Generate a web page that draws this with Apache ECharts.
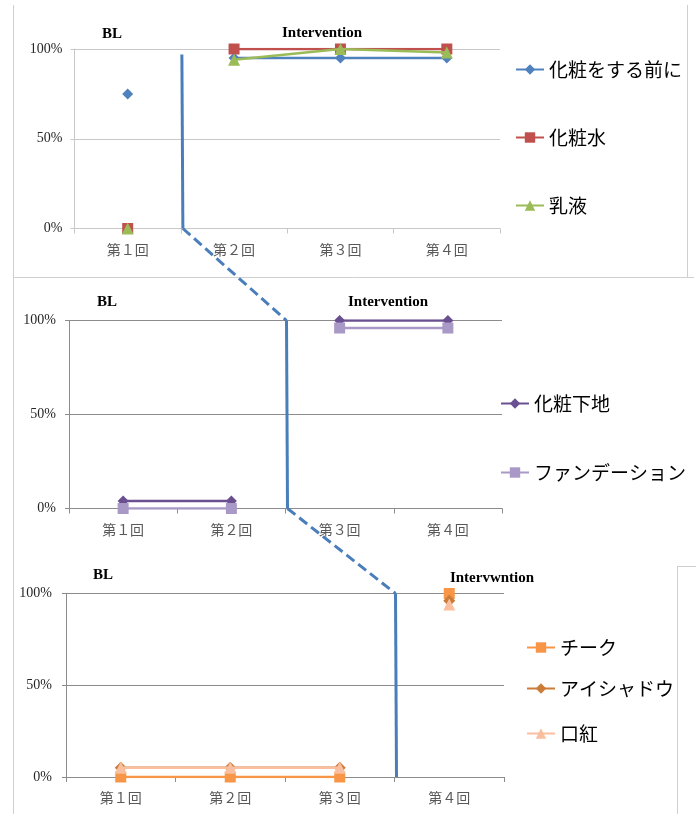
<!DOCTYPE html>
<html>
<head>
<meta charset="utf-8">
<script src="https://cdn.jsdelivr.net/npm/echarts@6/dist/echarts.min.js"></script>
<style>
html,body{margin:0;padding:0;background:#fff;}
#chart{width:696px;height:814px;}
</style>
</head>
<body>
<div id="chart"></div>
<script>
// ---- data ----
var categories = ['第１回', '第２回', '第３回', '第４回'];
var yTicks = [0, 50, 100];

// panel 1 (phase change after session 1)
var p1Names = ['化粧をする前に', '化粧水', '乳液'];
var p1Before = [75, 95, 95, 95];
var p1Lotion = [0, 100, 100, 100];
var p1Milk = [0, 94, 100, 98];
var p1Phase = 1;

// panel 2 (phase change after session 2)
var p2Names = ['化粧下地', 'ファンデーション'];
var p2Base = [4, 4, 100, 100];
var p2Foundation = [0, 0, 96, 96];
var p2Phase = 2;

// panel 3 (phase change after session 3)
var p3Names = ['チーク', 'アイシャドウ', '口紅'];
var p3Cheek = [0, 0, 0, 100];
var p3Eyeshadow = [5, 5, 5, 96];
var p3Lipstick = [5, 5, 5, 94];
var p3Phase = 3;

var phaseLabels = [['BL', 'Intervention'], ['BL', 'Intervention'], ['BL', 'Intervwntion']];

// ---- styling ----
var panels = [
  {
    names: p1Names, data: [p1Before, p1Lotion, p1Milk], phase: p1Phase,
    colors: ['#4F81BD', '#C0504D', '#9BBB59'],
    symbols: ['diamond', 'rect', 'triangle'],
    sizes: [11, 11, 12],
    grid: {left: 74.5, top: 49, width: 425.5, height: 179.5},
    gridColor: '#c8c8c8', labelMargin: 14, yMargin: 12,
    legendLeft: 510, legendTops: [55, 123, 191],
    labelPos: [[112, 34], [322, 33]]
  },
  {
    names: p2Names, data: [p2Base, p2Foundation], phase: p2Phase,
    colors: ['#6A4F91', '#A899C6'],
    symbols: ['diamond', 'rect'],
    sizes: [11, 11],
    grid: {left: 69, top: 320.5, width: 433, height: 188},
    gridColor: '#8c8c8c', labelMargin: 14, yMargin: 13,
    legendLeft: 495, legendTops: [389, 458],
    labelPos: [[107, 302], [388, 302]]
  },
  {
    names: p3Names, data: [p3Cheek, p3Eyeshadow, p3Lipstick], phase: p3Phase,
    colors: ['#F79646', '#CB7C38', '#F9BF9E'],
    symbols: ['rect', 'diamond', 'triangle'],
    sizes: [11, 12, 12],
    grid: {left: 66, top: 593.5, width: 438, height: 183.5},
    gridColor: '#8c8c8c', labelMargin: 14, yMargin: 14,
    legendLeft: 521, legendTops: [633, 674, 719],
    labelPos: [[103, 575], [492, 578]]
  }
];

var option = {
  animation: false,
  backgroundColor: '#fff',
  grid: [], xAxis: [], yAxis: [], series: [], legend: [], graphic: []
};

panels.forEach(function (p, pi) {
  option.grid.push(Object.assign({containLabel: false}, p.grid));
  option.xAxis.push({
    type: 'category', gridIndex: pi, data: categories, boundaryGap: true,
    axisLine: {show: true, lineStyle: {color: p.gridColor, width: 1}},
    axisTick: {show: true, length: 5, lineStyle: {color: p.gridColor}},
    axisLabel: {color: '#595959', fontFamily: 'Noto Sans CJK JP', fontSize: 14, margin: p.labelMargin},
    splitLine: {show: false}
  });
  option.yAxis.push({
    type: 'value', gridIndex: pi, min: 0, max: 100, interval: 50,
    axisLine: {show: true, lineStyle: {color: p.gridColor, width: 1}},
    axisTick: {show: true, length: 4, lineStyle: {color: p.gridColor}},
    axisLabel: {color: '#262626', fontFamily: 'Liberation Serif', fontSize: 14, margin: p.yMargin,
      formatter: function (v) { return yTicks.indexOf(v) >= 0 ? v + '%' : ''; }},
    splitLine: {show: true, lineStyle: {color: p.gridColor, width: 1}}
  });
  p.names.forEach(function (name, si) {
    var vals = p.data[si];
    var bl = vals.map(function (v, i) { return i < p.phase ? v : null; });
    var iv = vals.map(function (v, i) { return i >= p.phase ? v : null; });
    [bl, iv].forEach(function (d) {
      option.series.push({
        type: 'line', name: name, xAxisIndex: pi, yAxisIndex: pi, data: d,
        connectNulls: false, showSymbol: true, showAllSymbol: true,
        symbol: p.symbols[si], symbolSize: p.sizes[si],
        lineStyle: {color: p.colors[si], width: 2.5},
        itemStyle: {color: p.colors[si]},
        z: 3 + si
      });
    });
    option.legend.push({
      data: [name], orient: 'vertical', left: p.legendLeft, top: p.legendTops[si],
      itemWidth: 28, itemHeight: 13, itemGap: 0,
      textStyle: {fontFamily: 'Noto Sans CJK JP', fontSize: 19, color: '#000'},
      selectedMode: false
    });
  });
  p.labelPos.forEach(function (pos, li) {
    option.graphic.push({
      type: 'text', x: pos[0], y: pos[1],
      style: {text: phaseLabels[pi][li], font: 'bold 15px "Liberation Serif"', fill: '#000',
        align: 'center', verticalAlign: 'middle'},
      z: 10
    });
  });
});

// panel frame lines (decorative)
var frameColor = '#cfcfcf';
[[13.5, 5, 13.5, 814], [13, 277.5, 694, 277.5], [687.5, 5, 687.5, 277], [677.5, 566, 677.5, 814], [677, 566.5, 696, 566.5]]
  .forEach(function (s) {
    option.graphic.push({type: 'line', shape: {x1: s[0], y1: s[1], x2: s[2], y2: s[3]},
      style: {stroke: frameColor, lineWidth: 1}, z: 0});
  });

var chart = echarts.init(document.getElementById('chart'), null, {renderer: 'canvas'});
chart.setOption(option);

// phase change line, positioned from axis scales
var phaseColor = '#4A7EBB';
var pts = panels.map(function (p, pi) {
  var a = chart.convertToPixel({xAxisIndex: pi, yAxisIndex: pi}, [p.phase - 1, 0]);
  var b = chart.convertToPixel({xAxisIndex: pi, yAxisIndex: pi}, [p.phase, 0]);
  var top = chart.convertToPixel({yAxisIndex: pi}, pi === 0 ? 97 : 100);
  return {x: (a[0] + b[0]) / 2 + 1, yTop: top, yBot: a[1]};
});
var extra = [];
pts.forEach(function (pt, i) {
  extra.push({type: 'line', shape: {x1: pt.x, y1: pt.yTop, x2: pt.x + 1, y2: pt.yBot},
    style: {stroke: phaseColor, lineWidth: 3}, z: 20});
  if (i < pts.length - 1) {
    var nx = pts[i + 1];
    extra.push({type: 'line', shape: {x1: pt.x + 1, y1: pt.yBot, x2: nx.x, y2: nx.yTop},
      style: {stroke: phaseColor, lineWidth: 3, lineDash: [10, 5]}, z: 20});
  }
});
chart.setOption({graphic: option.graphic.concat(extra)});
</script>
</body>
</html>
